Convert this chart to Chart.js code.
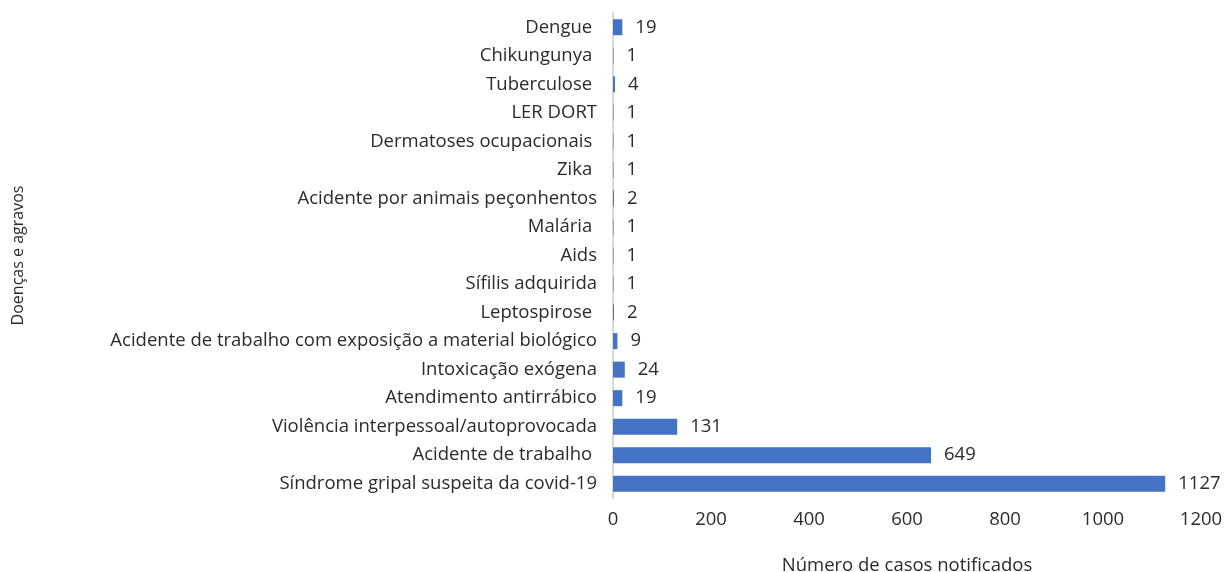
<!DOCTYPE html>
<html>
<head>
<meta charset="utf-8">
<script src="https://cdn.jsdelivr.net/npm/chart.js@4.4.1/dist/chart.umd.min.js"></script>
<style>
  html, body { margin: 0; padding: 0; background: #fff; }
  #wrap { width: 1224px; height: 572px; }
</style>
</head>
<body>
<div id="wrap"><canvas id="chart" width="1224" height="572"></canvas></div>
<script>
// Chart data
const categories = [
  "Dengue ", "Chikungunya ", "Tuberculose ", "LER DORT", "Dermatoses ocupacionais ",
  "Zika ", "Acidente por animais peçonhentos", "Malária ", "Aids", "Sífilis adquirida",
  "Leptospirose ", "Acidente de trabalho com exposição a material biológico",
  "Intoxicação exógena", "Atendimento antirrábico", "Violência interpessoal/autoprovocada",
  "Acidente de trabalho ", "Síndrome gripal suspeita da covid-19"
];
const casos = [19, 1, 4, 1, 1, 1, 2, 1, 1, 1, 2, 9, 24, 19, 131, 649, 1127];
const xTicks = [0, 200, 400, 600, 800, 1000, 1200];

const FONT = "'Open Sans', 'DejaVu Sans', sans-serif";
const TEXT = "#2b2b2b";
const SIZE = 18.5;

// draw value labels just right of each bar
const valueLabels = {
  id: "valueLabels",
  afterDatasetsDraw(chart) {
    const ctx = chart.ctx;
    const meta = chart.getDatasetMeta(0);
    ctx.save();
    ctx.font = SIZE + "px " + FONT;
    ctx.fillStyle = TEXT;
    ctx.textAlign = "left";
    ctx.textBaseline = "middle";
    meta.data.forEach((bar, i) => {
      ctx.fillText(String(casos[i]), bar.x + 13, bar.y);
    });
    ctx.restore();
  }
};

const ctx = document.getElementById("chart").getContext("2d");
new Chart(ctx, {
  type: "bar",
  data: {
    labels: categories,
    datasets: [{
      data: casos,
      backgroundColor: "#4472C4",
      borderWidth: 0,
      barPercentage: 0.56,
      categoryPercentage: 1.0
    }]
  },
  options: {
    indexAxis: "y",
    responsive: false,
    animation: false,
    layout: { padding: { top: 13, right: 23, bottom: 0, left: 0 } },
    plugins: { legend: { display: false }, tooltip: { enabled: false } },
    scales: {
      x: {
        min: 0, max: 1200,
        afterBuildTicks: s => { s.ticks = xTicks.map(v => ({ value: v })); },
        afterFit: s => { s.height = 74; s.paddingLeft = 0; s.paddingRight = 0; },
        grid: { display: false, drawTicks: false },
        border: { display: false },
        ticks: { color: TEXT, font: { family: FONT, size: SIZE }, padding: 11, maxRotation: 0,
                 callback: v => String(v) },
        title: { display: true, text: "Número de casos notificados", color: TEXT,
                 font: { family: FONT, size: SIZE }, padding: { top: 0, bottom: -5 } }
      },
      y: {
        afterFit: s => { s.width = 613; s.paddingTop = 0; s.paddingBottom = 0; },
        grid: { display: false, drawTicks: false },
        border: { display: true, color: "#d9d9d9", width: 2 },
        ticks: { color: TEXT, font: { family: FONT, size: SIZE }, padding: 16, autoSkip: false },
        title: { display: true, text: "Doenças e agravos", color: TEXT,
                 font: { family: FONT, size: 16 }, padding: { top: 9, bottom: 0 } }
      }
    }
  },
  plugins: [valueLabels]
});
</script>
</body>
</html>
